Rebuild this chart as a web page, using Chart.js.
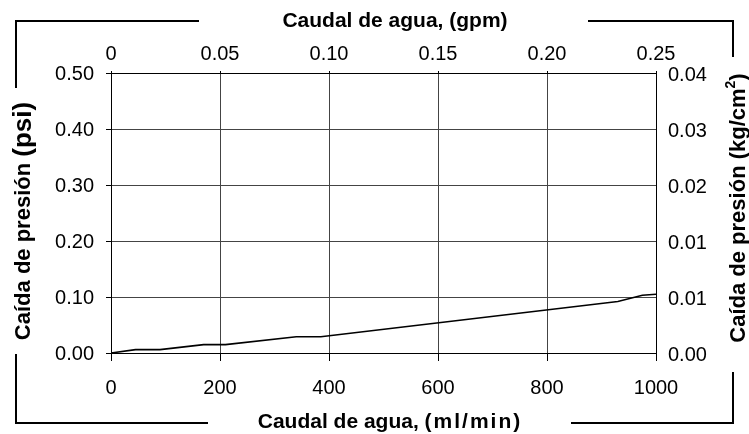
<!DOCTYPE html>
<html>
<head>
<meta charset="utf-8">
<script src="https://cdn.jsdelivr.net/npm/chart.js@4.4.0/dist/chart.umd.min.js"></script>
<style>
    html, body { margin: 0; padding: 0; background: #fff; }
    #chart { display: block; }
</style>
</head>
<body>
<canvas id="chart" width="749" height="434"></canvas>
<script>
"use strict";

// Water flow (ml/min) and pressure drop (psi)
const flowMlMin = [0, 45, 90, 170, 210, 340, 385, 930, 975, 1000];
const dropPsi = [0, 0.006, 0.006, 0.015, 0.015, 0.029, 0.029, 0.092, 0.103, 0.105];

// Tick values and labels of the four axes
const bottomTicks = [0, 200, 400, 600, 800, 1000];
const bottomLabels = ["0", "200", "400", "600", "800", "1000"];
const topTicks = [0, 0.05, 0.1, 0.15, 0.2, 0.25];
const topLabels = ["0", "0.05", "0.10", "0.15", "0.20", "0.25"];
const leftTicks = [0, 0.1, 0.2, 0.3, 0.4, 0.5];
const leftLabels = ["0.00", "0.10", "0.20", "0.30", "0.40", "0.50"];
const rightLabels = ["0.00", "0.01", "0.01", "0.02", "0.03", "0.04"];

// Axis titles
const titleTop = "Caudal de agua, (gpm)";
const titleBottom = ["Caudal de agua, ", "(ml/min)"];
const titleLeft = ["Caída de presión ", "(psi)"];
const titleRight = ["Caída de presión (kg/cm", "2", ")"];

const FONT = '"Liberation Sans", Arial, sans-serif';

/**
 * Draw a row of text pieces centred on (cx, cy)
 */
function drawParts(ctx, parts, cx, cy) {
    let total = 0;
    parts.forEach((p) => {
        ctx.font = p.font;
        ctx.letterSpacing = p.spacing || "0px";
        p.w = ctx.measureText(p.text).width;
        total += p.w;
    });
    let x = cx - total / 2;
    parts.forEach((p) => {
        ctx.font = p.font;
        ctx.letterSpacing = p.spacing || "0px";
        ctx.fillText(p.text, x, cy + (p.dy || 0));
        x += p.w;
    });
    ctx.letterSpacing = "0px";
}

// Outer bracket frame and the axis titles
const framePlugin = {
    id: "frame",
    afterDraw(chart) {
        const ctx = chart.ctx;
        ctx.save();
        ctx.strokeStyle = "#000";
        ctx.lineWidth = 2;
        ctx.lineCap = "square";
        const segs = [
            [16, 21, 198, 21], [589, 21, 733, 21],
            [16, 21, 16, 87], [16, 355, 16, 423],
            [16, 423, 207, 423], [572, 423, 733, 423],
            [733, 21, 733, 56], [733, 373, 733, 423],
        ];
        ctx.beginPath();
        segs.forEach((s) => {
            ctx.moveTo(s[0], s[1]);
            ctx.lineTo(s[2], s[3]);
        });
        ctx.stroke();

        ctx.fillStyle = "#000";
        ctx.textBaseline = "middle";
        ctx.textAlign = "left";

        drawParts(ctx, [{ text: titleTop, font: "bold 21px " + FONT }], 395, 21);
        drawParts(ctx, [
            { text: titleBottom[0], font: "bold 21px " + FONT },
            { text: titleBottom[1], font: "bold 21px " + FONT, spacing: "2px" },
        ], 390, 422);

        ctx.save();
        ctx.translate(24, 221);
        ctx.rotate(-Math.PI / 2);
        drawParts(ctx, [
            { text: titleLeft[0], font: "bold 22px " + FONT },
            { text: titleLeft[1], font: "bold 26px " + FONT },
        ], 0, 0);
        ctx.restore();

        ctx.save();
        ctx.translate(739, 208);
        ctx.rotate(-Math.PI / 2);
        drawParts(ctx, [
            { text: titleRight[0], font: "bold 22px " + FONT },
            { text: titleRight[1], font: "bold 14px " + FONT, dy: -8 },
            { text: titleRight[2], font: "bold 22px " + FONT },
        ], 0, 0);
        ctx.restore();

        ctx.restore();
    },
};

const tickFont = { family: FONT, size: 20 };

new Chart(document.getElementById("chart"), {
    type: "line",
    data: {
        datasets: [
            {
                data: flowMlMin.map((x, i) => ({ x, y: dropPsi[i] })),
                borderColor: "#000",
                borderWidth: 1.6,
                pointRadius: 0,
                tension: 0,
                fill: false,
                xAxisID: "x",
                yAxisID: "y",
            },
        ],
    },
    options: {
        responsive: false,
        devicePixelRatio: 1,
        animation: false,
        layout: { padding: 0 },
        plugins: {
            legend: { display: false },
            tooltip: { enabled: false },
        },
        scales: {
            x: {
                type: "linear",
                position: "bottom",
                min: 0,
                max: 1000,
                afterBuildTicks: (s) => { s.ticks = bottomTicks.map((v) => ({ value: v })); },
                afterFit: (s) => { s.height = 81; },
                ticks: {
                    font: tickFont,
                    color: "#000",
                    padding: 15,
                    maxRotation: 0,
                    callback: (v, i) => bottomLabels[i],
                },
                grid: { color: "#444", tickColor: "#000", tickLength: 8 },
                border: { color: "#000", width: 1 },
            },
            x2: {
                type: "linear",
                position: "top",
                min: 0,
                max: 0.25,
                afterBuildTicks: (s) => { s.ticks = topTicks.map((v) => ({ value: v })); },
                afterFit: (s) => { s.height = 73; },
                ticks: {
                    font: tickFont,
                    color: "#000",
                    padding: 5,
                    maxRotation: 0,
                    callback: (v, i) => topLabels[i],
                },
                grid: { drawOnChartArea: false, tickColor: "#000", tickLength: 2 },
                border: { color: "#000", width: 1 },
            },
            y: {
                type: "linear",
                position: "left",
                min: 0,
                max: 0.5,
                afterBuildTicks: (s) => { s.ticks = leftTicks.map((v) => ({ value: v })); },
                afterFit: (s) => { s.width = 111; },
                ticks: {
                    font: tickFont,
                    color: "#000",
                    padding: 12,
                    labelOffset: 1,
                    callback: (v, i) => leftLabels[i],
                },
                grid: { color: "#444", tickColor: "#000", tickLength: 5 },
                border: { color: "#000", width: 1 },
            },
            y2: {
                type: "linear",
                position: "right",
                min: 0,
                max: 0.5,
                afterBuildTicks: (s) => { s.ticks = leftTicks.map((v) => ({ value: v })); },
                afterFit: (s) => { s.width = 93; },
                ticks: {
                    font: tickFont,
                    color: "#000",
                    padding: 12,
                    labelOffset: 2,
                    callback: (v, i) => rightLabels[i],
                },
                grid: { drawOnChartArea: false, drawTicks: false },
                border: { color: "#000", width: 1 },
            },
        },
    },
    plugins: [framePlugin],
});
</script>
</body>
</html>
